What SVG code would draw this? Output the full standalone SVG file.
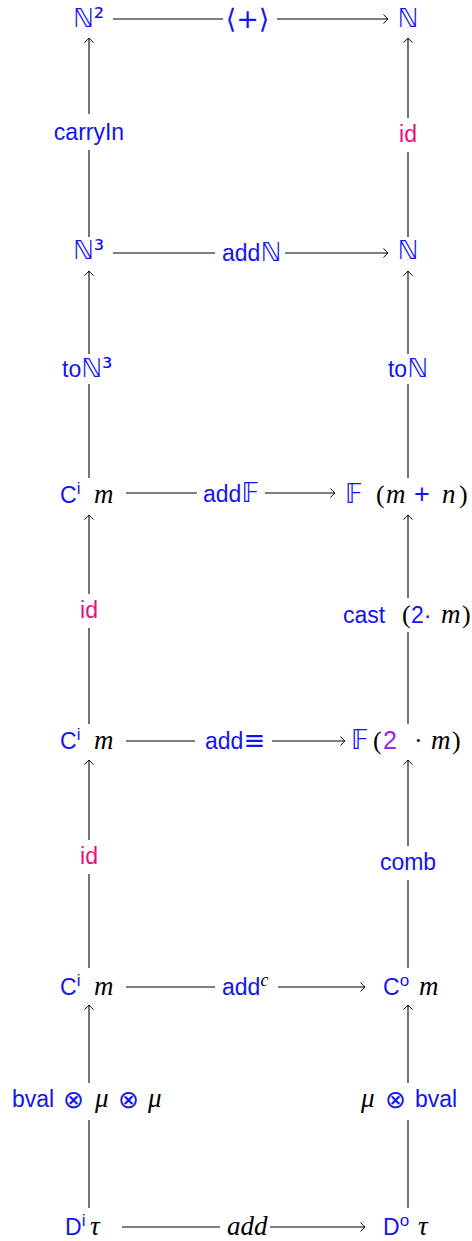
<svg xmlns="http://www.w3.org/2000/svg" width="472" height="1241" viewBox="0 0 472 1241">
<style>
text{font-family:"Liberation Sans","DejaVu Sans",sans-serif;font-size:23px;fill:#1414f0}
.m{font-family:"Liberation Serif","DejaVu Serif",serif;font-style:italic;font-size:27px;fill:#000}
.r{font-family:"Liberation Serif","DejaVu Serif",serif;font-size:26px;fill:#000}
.bb{font-family:"DejaVu Sans",sans-serif;font-size:26px}
.ot{font-family:"DejaVu Sans",sans-serif;font-size:25px;font-weight:200}
.sup{font-size:17px}
.pk{fill:#e8107e}
.pu{fill:#a020f0}
.c line{stroke:#000;stroke-width:1.1;fill:none}
</style>
<defs>
<marker id="ah" markerUnits="userSpaceOnUse" markerWidth="12" markerHeight="12" viewBox="-6 -6 12 12" refX="0" refY="0" orient="auto">
<path d="M-4.5,-4.5 Q-1.5,-1 0,0 Q-1.5,1 -4.5,4.5" fill="none" stroke="#000" stroke-width="1"/>
</marker>
</defs>

<g class="c" id="connectors">
<line x1="113" y1="19" x2="223" y2="19"/><line x1="277" y1="19" x2="388" y2="19" marker-end="url(#ah)"/>
<line x1="113" y1="253" x2="215" y2="253"/><line x1="285" y1="253" x2="388" y2="253" marker-end="url(#ah)"/>
<line x1="126" y1="493" x2="197" y2="493"/><line x1="265" y1="493" x2="335" y2="493" marker-end="url(#ah)"/>
<line x1="126" y1="741" x2="195" y2="741"/><line x1="272" y1="741" x2="345" y2="741" marker-end="url(#ah)"/>
<line x1="126" y1="987" x2="215" y2="987"/><line x1="278" y1="987" x2="365" y2="987" marker-end="url(#ah)"/>
<line x1="122" y1="1227" x2="220" y2="1227"/><line x1="270" y1="1227" x2="365" y2="1227" marker-end="url(#ah)"/>
<line x1="89" y1="237" x2="89" y2="150"/><line x1="89" y1="114" x2="89" y2="38" marker-end="url(#ah)"/>
<line x1="89" y1="478" x2="89" y2="384"/><line x1="89" y1="354" x2="89" y2="271" marker-end="url(#ah)"/>
<line x1="89" y1="724" x2="89" y2="628"/><line x1="89" y1="594" x2="89" y2="515" marker-end="url(#ah)"/>
<line x1="89" y1="968" x2="89" y2="874"/><line x1="89" y1="840" x2="89" y2="760" marker-end="url(#ah)"/>
<line x1="89" y1="1208" x2="89" y2="1120"/><line x1="89" y1="1083" x2="89" y2="1005" marker-end="url(#ah)"/>
<line x1="408" y1="237" x2="408" y2="152"/><line x1="408" y1="118" x2="408" y2="38" marker-end="url(#ah)"/>
<line x1="408" y1="478" x2="408" y2="384"/><line x1="408" y1="354" x2="408" y2="271" marker-end="url(#ah)"/>
<line x1="408" y1="724" x2="408" y2="632"/><line x1="408" y1="598" x2="408" y2="515" marker-end="url(#ah)"/>
<line x1="408" y1="968" x2="408" y2="880"/><line x1="408" y1="846" x2="408" y2="760" marker-end="url(#ah)"/>
<line x1="408" y1="1208" x2="408" y2="1120"/><line x1="408" y1="1083" x2="408" y2="1005" marker-end="url(#ah)"/>
</g>

<g id="labels">
<text x="247.5" y="28" text-anchor="middle" class="bb" style="font-size:27px">⟨+⟩</text>
<text x="222" y="261">add<tspan class="bb">ℕ</tspan></text>
<text x="203" y="502">add<tspan class="bb">𝔽</tspan></text>
<text x="205" y="749">add<tspan class="bb">≡</tspan></text>
<text x="222" y="995">add<tspan class="m" style="font-size:18px" dy="-9">c</tspan></text>
<text x="227" y="1235" class="m">add</text>
<text x="89" y="140" text-anchor="middle">carryIn</text>
<text x="408" y="142" text-anchor="middle" class="pk">id</text>
<text x="62" y="377">to<tspan class="bb">ℕ³</tspan></text>
<text x="408" y="377" text-anchor="middle">to<tspan class="bb">ℕ</tspan></text>
<text x="89" y="618" text-anchor="middle" class="pk">id</text>
<text x="343" y="623">cast</text><text x="402" y="623" class="r">(</text><text x="411" y="623">2·</text><text x="441" y="623" class="m">m</text><text x="462" y="623" class="r">)</text>
<text x="89" y="864" text-anchor="middle" class="pk">id</text>
<text x="408" y="870" text-anchor="middle">comb</text>
<text x="12" y="1107">bval</text><text x="63" y="1108" class="ot">⊗</text><text x="95" y="1107" class="m">μ</text><text x="118" y="1108" class="ot">⊗</text><text x="148" y="1107" class="m">μ</text>
<text x="361" y="1107" class="m">μ</text><text x="385" y="1108" class="ot">⊗</text><text x="415" y="1107">bval</text>
</g>

<g id="n-N2"><text x="73" y="27" class="bb">ℕ²</text></g>
<g id="n-N-top"><text x="408" y="27" text-anchor="middle" class="bb">ℕ</text></g>
<g id="n-N3"><text x="73" y="259" class="bb">ℕ³</text></g>
<g id="n-N-2"><text x="408" y="259" text-anchor="middle" class="bb">ℕ</text></g>
<g id="n-Ci-3"><text x="60" y="503">C<tspan class="sup" dy="-9">i</tspan></text><text x="94" y="503" class="m">m</text></g>
<g id="n-F-mn"><text x="345" y="503" class="bb">𝔽</text><text x="376" y="503" class="r">(</text><text x="386" y="503" class="m">m</text><text x="414" y="503" style="font-size:27px">+</text><text x="442" y="503" class="m">n</text><text x="459" y="503" class="r">)</text></g>
<g id="n-Ci-4"><text x="60" y="749">C<tspan class="sup" dy="-9">i</tspan></text><text x="94" y="749" class="m">m</text></g>
<g id="n-F-2m"><text x="351" y="749" class="bb">𝔽</text><text x="373" y="749" class="r">(</text><text x="383" y="749" class="pu" style="font-size:25px">2</text><text x="414" y="749" class="r">·</text><text x="431" y="749" class="m">m</text><text x="452" y="749" class="r">)</text></g>
<g id="n-Ci-5"><text x="60" y="995">C<tspan class="sup" dy="-9">i</tspan></text><text x="94" y="995" class="m">m</text></g>
<g id="n-Co"><text x="383" y="995">C<tspan class="sup" dy="-9">o</tspan></text><text x="419" y="995" class="m">m</text></g>
<g id="n-Di"><text x="65" y="1235">D<tspan class="sup" dy="-9">i</tspan></text><text x="90" y="1235" class="m">τ</text></g>
<g id="n-Do"><text x="383" y="1235">D<tspan class="sup" dy="-9">o</tspan></text><text x="418" y="1235" class="m">τ</text></g>
</svg>
